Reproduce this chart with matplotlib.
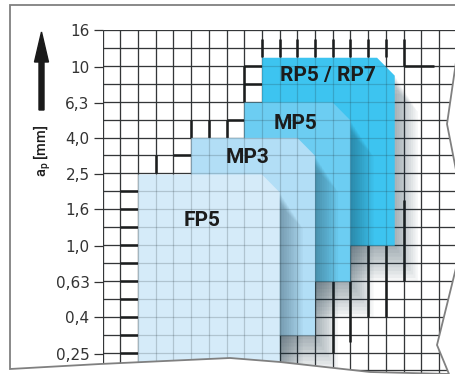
import matplotlib.pyplot as plt
from matplotlib.patches import FancyArrow, Polygon

plt.rcParams["mathtext.fontset"] = "custom"
plt.rcParams["mathtext.rm"] = "Roboto:medium"

# a_p axis (log, R5 steps) - tick values and the labels printed on them
ap_ticks = [0.25, 0.4, 0.63, 1.0, 1.6, 2.5, 4.0, 6.3, 10, 16]
ap_labels = ["0,25", "0,4", "0,63", "1,0", "1,6", "2,5", "4,0", "6,3", "10", "16"]

# chipbreaker ranges, back to front; x is in grid columns (no scale shown)
names = ["RP5 / RP7", "MP5", "MP3", "FP5"]
x_left = [9, 8, 5, 2]
x_right = [16.5, 14, 12, 10]
ap_top = [11.2, 6.3, 4.0, 2.5]
ap_bottom = [1.0, 0.63, 0.315, 0.19]
label_x = [12.73, 10.92, 8.18, 5.64]
label_ap = [8.97, 4.84, 3.11, 1.385]
fills = ["#3dc4f0", "#6ccdf2", "#b2def6", "#d5ebf9"]

# darker grid segments (shadow outline): (column, row from, row to) / (row, col from, col to)
thick_v = [(3, 7, 8), (5, 5, 6), (6, 5, 6), (7, 5, 6), (8, 2, 4),
           (9, 0.5, 1.5), (10, 0.5, 1.5), (11, 0.5, 1.5), (12, 0.5, 1.5),
           (13, 0.5, 1.5), (14, 0.5, 1.5), (15, 0.5, 1.5), (16, 0.5, 1.5),
           (17, 0.5, 2), (13, 14, 18), (14, 14, 17.4), (15, 12, 16),
           (16, 12, 16), (17, 9.5, 14)]
thick_h = [(9, 1, 2), (10, 1, 2), (11, 1, 2), (12, 1, 2), (13, 1, 2),
           (14, 1, 2), (15, 1, 2), (16, 1, 2), (17, 1, 2), (18, 1, 2),
           (7, 4, 5), (5, 7, 8), (2, 8, 9), (3, 8, 9), (2, 17, 18.7)]

W, H = 456, 374
X0, CELL_X, Y0, CELL_Y = 102.7, 17.7, 30.0, 17.92


def row_ap(r):
    # grid rows are half R5 steps below 16 mm
    return 16 * 10 ** (-r / 10)


def px(x, y):
    # pixel (from top-left) -> inches for dpi_scale_trans
    return (x / 100, (H - y) / 100)


fig = plt.figure(figsize=(W / 100, H / 100), dpi=100)

# torn sheet outline
sheet_px = [(10, 5), (456, 5), (456, 62), (447, 124), (456, 170), (456, 268),
            (437, 345), (449, 374), (370, 372), (280, 362), (230, 358),
            (100, 364), (10, 369)]
sheet = Polygon([px(*p) for p in sheet_px], closed=True,
                transform=fig.dpi_scale_trans)

ax = fig.add_axes([X0 / W, 0, (W - X0) / W, 1 - Y0 / H])
ax.set_yscale("log")
ax.set_xlim(0, (W - X0) / CELL_X)
ax.set_ylim(row_ap((H - Y0) / CELL_Y), 16)
ax.patch.set_visible(False)
for s in ax.spines.values():
    s.set_visible(False)

# grid under the blocks
rows = [row_ap(r) for r in range(20)]
cols = list(range(20))
g1 = ax.hlines(rows, 0, 20, colors="#3a3a3a", lw=0.9, zorder=1)
g2 = ax.vlines(cols, row_ap(20), 16, colors="#3a3a3a", lw=0.9, zorder=1)
arts = [g1, g2]
for c, r0, r1 in thick_v:
    arts += ax.plot([c, c], [row_ap(r0), row_ap(r1)], color="#1a1a1a", lw=1.8,
                    solid_capstyle="butt", zorder=1.5)
for r, c0, c1 in thick_h:
    arts += ax.plot([c0, c1], [row_ap(r), row_ap(r)], color="#1a1a1a", lw=1.8,
                    solid_capstyle="butt", zorder=1.5)


def block_xy(xl, xr, top, bottom, dx=0.0, dr=0.0):
    f = 10 ** (-dr / 10)
    pts = [(xl, bottom), (xl, top), (xr - 1, top), (xr, top / 10 ** 0.1),
           (xr, bottom)]
    return [(x + dx, y * f) for x, y in pts]


z = 2
for i in range(len(names)):
    # soft drop shadow to the right and below
    for k in range(1, 11):
        sh = Polygon(block_xy(x_left[i], x_right[i], ap_top[i], ap_bottom[i],
                              0.13 * k, 0.2 * k),
                     closed=True, facecolor="#183444", edgecolor="none",
                     alpha=0.045, zorder=z)
        ax.add_patch(sh)
        arts.append(sh)
    z += 1
    blk = Polygon(block_xy(x_left[i], x_right[i], ap_top[i], ap_bottom[i]),
                  closed=True, facecolor=fills[i], edgecolor="none", zorder=z)
    ax.add_patch(blk)
    arts.append(blk)
    z += 1

# grid showing through the blocks
g3 = ax.hlines(rows, 0, 20, colors="#1e2a30", lw=0.9, alpha=0.2, zorder=z)
g4 = ax.vlines(cols, row_ap(20), 16, colors="#1e2a30", lw=0.9, alpha=0.2, zorder=z)
arts += [g3, g4]
for a in arts:
    a.set_clip_path(sheet)

for i in range(len(names)):
    ax.text(label_x[i], label_ap[i], names[i], ha="center", va="center",
            fontsize=15, family="Roboto", weight="bold", color="#1c1c1c",
            zorder=z + 1)

ax.set_xticks([])
ax.set_yticks(ap_ticks)
ax.set_yticklabels(ap_labels)
ax.minorticks_off()
ax.tick_params(axis="y", length=6.5, width=0.9, color="#333333", pad=3,
               labelsize=11, labelcolor="#333333")
for lab in ax.get_yticklabels():
    lab.set_family(["Liberation Sans Narrow", "DejaVu Sans"])

outline = Polygon([px(*p) for p in sheet_px], closed=True, fill=False,
                  edgecolor="#808080", lw=1.3, transform=fig.dpi_scale_trans)
fig.add_artist(outline)

# a_p arrow and label
tail = px(41.5, 110)
tip = px(41.5, 32)
fig.add_artist(FancyArrow(tail[0], tail[1], 0, tip[1] - tail[1], width=0.05,
                          head_width=0.14, head_length=0.30,
                          length_includes_head=True, color="#1a1a1a",
                          transform=fig.dpi_scale_trans))
fig.text(42 / W, 1 - 151 / H, r"a$_\mathrm{p}$ [mm]", rotation=90,
         ha="center", va="center", fontsize=10.5, family="Roboto",
         weight="medium", color="#1c1c1c")

fig.savefig("out.png", dpi=100, facecolor="white")
